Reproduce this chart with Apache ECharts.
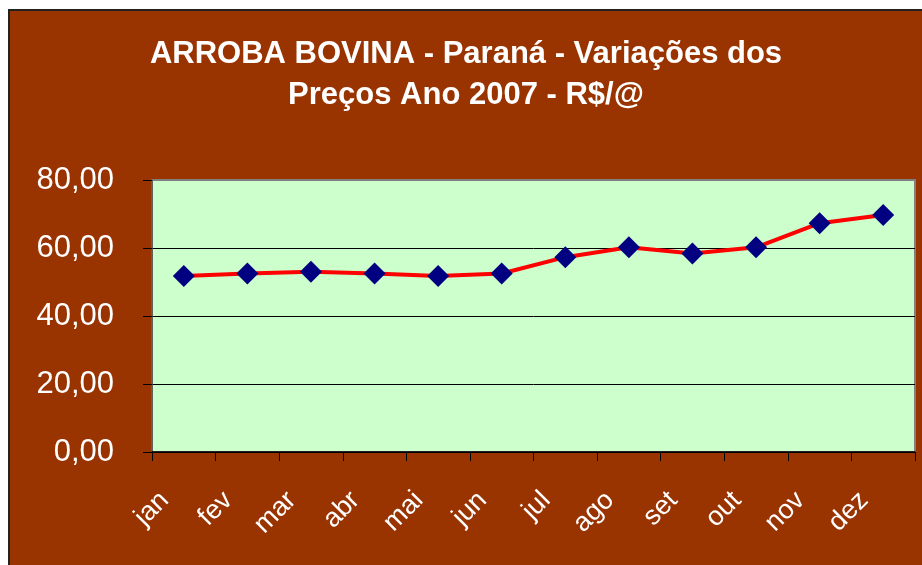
<!DOCTYPE html>
<html>
<head>
<meta charset="utf-8">
<script src="https://cdn.jsdelivr.net/npm/echarts@6/dist/echarts.min.js"></script>
<style>
  html, body { margin: 0; padding: 0; background: #fff; }
  #chart {
    position: absolute;
    left: 8px;
    top: 9px;
    width: 912px;
    height: 554px;
    border-left: 2px solid #222;
    border-top: 2px solid #222;
    background: #993300;
  }
</style>
</head>
<body>
<div id="chart"></div>
<script>
const months = ['jan', 'fev', 'mar', 'abr', 'mai', 'jun', 'jul', 'ago', 'set', 'out', 'nov', 'dez']
const prices = [51.8, 52.5, 53.0, 52.5, 51.8, 52.5, 57.3, 60.2, 58.4, 60.2, 67.3, 69.7]
const yTicks = { min: 0, max: 80, interval: 20 }

const chart = echarts.init(document.getElementById('chart'))

const fmt = (v) => v.toFixed(2).replace('.', ',')

chart.setOption({
  animation: false,
  textStyle: { fontFamily: 'Liberation Sans, Arial, sans-serif' },
  title: {
    text: 'ARROBA BOVINA - Paraná - Variações dos\nPreços Ano 2007 - R$/@',
    left: 'center',
    top: 18,
    textStyle: {
      color: '#fff',
      fontSize: 31,
      fontWeight: 'bold',
      lineHeight: 41,
      fontFamily: 'Liberation Sans, Arial, sans-serif',
    },
  },
  grid: {
    left: 142,
    right: 7,
    top: 169,
    bottom: 113,
    show: true,
    backgroundColor: '#ccffcc',
    borderColor: '#808080',
    borderWidth: 2,
  },
  xAxis: {
    type: 'category',
    data: months,
    boundaryGap: true,
    axisLine: { lineStyle: { color: '#000', width: 1.5 } },
    axisTick: { show: true, length: 9, lineStyle: { color: '#000' } },
    axisLabel: {
      color: '#fff',
      fontSize: 27,
      rotate: 45,
      margin: 25,
      padding: [0, 27, 0, 0],
      interval: 0,
    },
    splitLine: { show: false },
  },
  yAxis: {
    type: 'value',
    min: yTicks.min,
    max: yTicks.max,
    interval: yTicks.interval,
    axisLine: { show: true, lineStyle: { color: '#555', width: 1.5 } },
    axisTick: { show: true, length: 9, lineStyle: { color: '#000' } },
    axisLabel: {
      color: '#fff',
      fontSize: 31,
      margin: 38,
      formatter: fmt,
    },
    splitLine: { show: true, lineStyle: { color: ['#000', '#000', '#000', '#000', '#808080'], width: 1 } },
  },
  series: [
    {
      type: 'line',
      data: prices,
      symbol: 'diamond',
      symbolSize: 22,
      lineStyle: { color: '#ff0000', width: 4 },
      itemStyle: { color: '#000080' },
      z: 3,
    },
  ],
})
</script>
</body>
</html>
